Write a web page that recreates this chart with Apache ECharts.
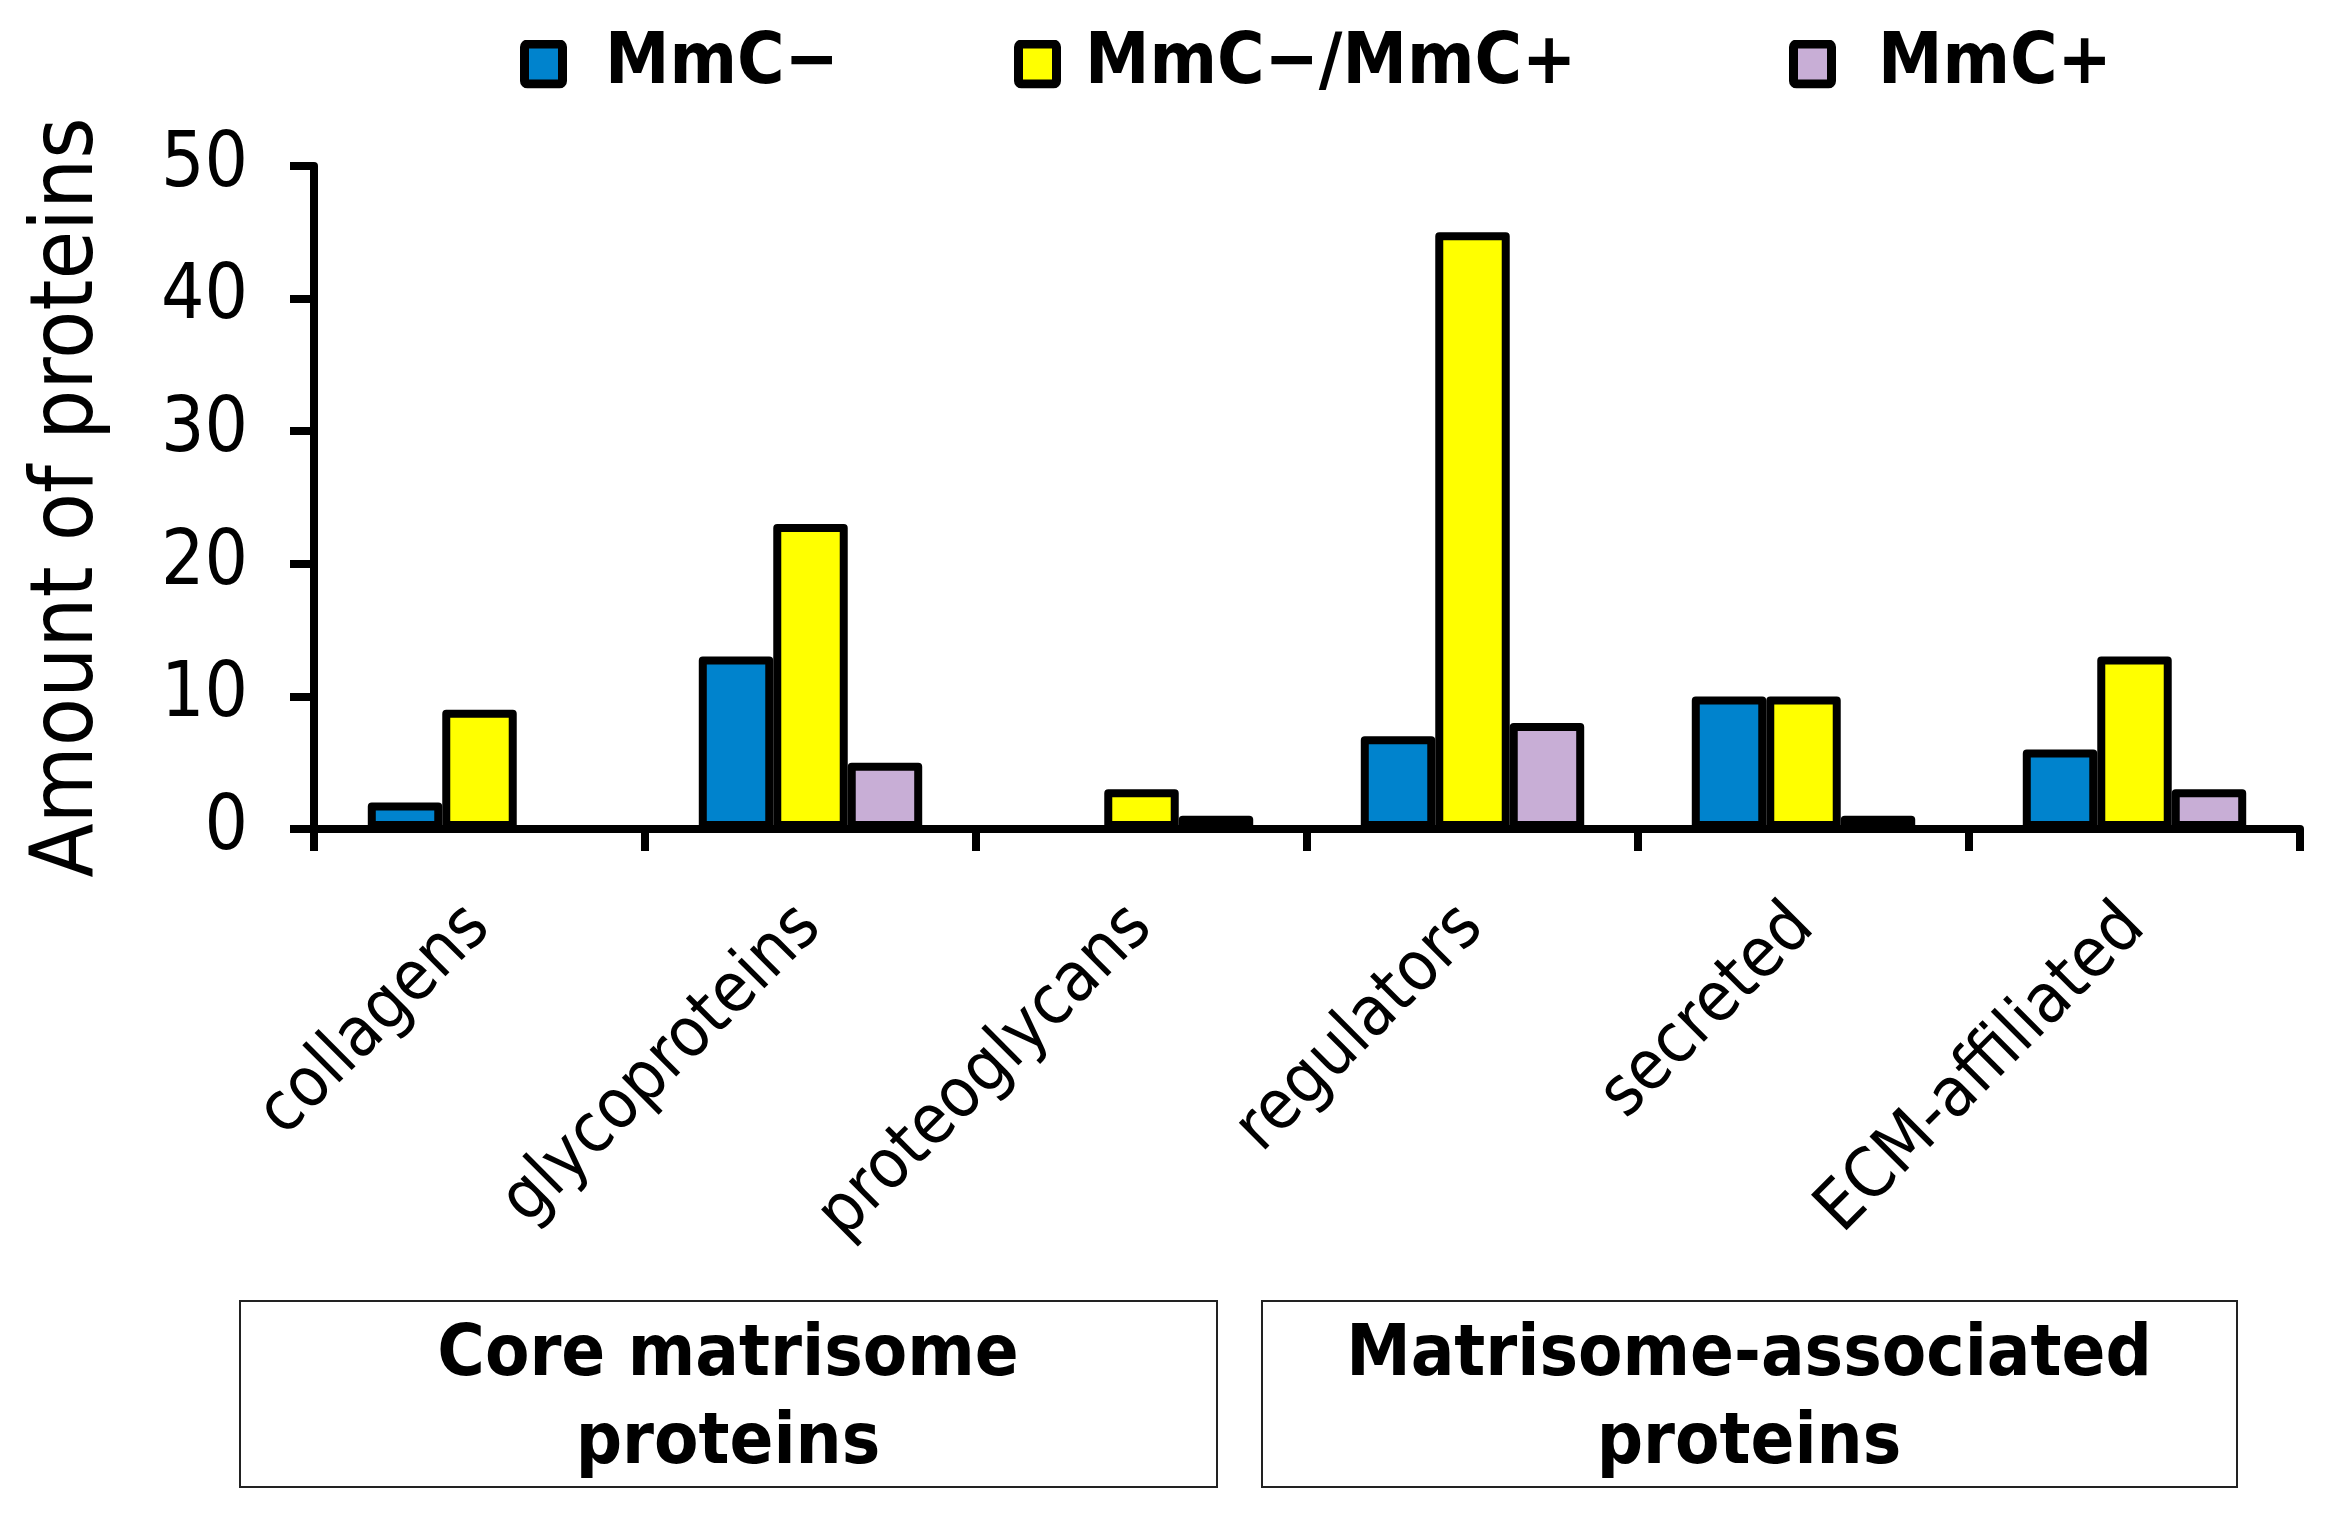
<!DOCTYPE html>
<html>
<head>
<meta charset="utf-8">
<script src="https://cdn.jsdelivr.net/npm/echarts@6/dist/echarts.min.js"></script>
<style>
html,body{margin:0;padding:0;background:#fff;}
#chart{width:2342px;height:1513px;}
</style>
</head>
<body>
<div id="chart"></div>
<script>
const categories = ['collagens', 'glycoproteins', 'proteoglycans', 'regulators', 'secreted', 'ECM-affiliated'];
const seriesNames = ['MmC\u2212', 'MmC\u2212/MmC+', 'MmC+'];
const mmcMinus = [2, 13, 0, 7, 10, 6];
const mmcBoth = [9, 23, 3, 45, 10, 13];
const mmcPlus = [0, 5, 1, 8, 1, 3];
const seriesColors = ['#0083CD', '#FFFF00', '#C8AED6'];
const yAxisName = 'Amount of proteins';
const groupLabels = ['Core matrisome\nproteins', 'Matrisome-associated\nproteins'];

const FONT = "'DejaVu Sans Condensed', 'Liberation Sans', sans-serif";

const chart = echarts.init(document.getElementById('chart'), null, {renderer: 'canvas'});

function legendIcon(color) {
  const svg = "<svg xmlns='http://www.w3.org/2000/svg' width='47' height='49' viewBox='0 0 47 49'>" +
    "<rect x='4.5' y='4.5' width='38' height='40' rx='3' ry='3' fill='" + color + "' stroke='#000' stroke-width='9'/></svg>";
  return 'image://data:image/svg+xml;charset=utf-8,' + encodeURIComponent(svg);
}

function legendFor(i, left, pad) {
  return {
    data: [seriesNames[i]],
    left: left,
    top: 23,
    itemWidth: 47,
    itemHeight: 49,
    icon: legendIcon(seriesColors[i]),
    textStyle: {fontFamily: FONT, fontWeight: 'bold', fontSize: 72, color: '#000', padding: [12, 0, 0, pad]}
  };
}

const seriesData = [mmcMinus, mmcBoth, mmcPlus];

const option = {
  backgroundColor: '#fff',
  animation: false,
  legend: [legendFor(0, 515, 33), legendFor(1, 1009, 19), legendFor(2, 1784, 37)],
  grid: {left: 314, right: 42, top: 166, bottom: 684, containLabel: false, outerBoundsMode: 'none'},
  xAxis: {
    type: 'category',
    data: categories,
    axisLine: {lineStyle: {color: '#000', width: 8}},
    axisTick: {show: true, alignWithLabel: false, length: 22, lineStyle: {color: '#000', width: 8}},
    axisLabel: {interval: 0, rotate: 45, margin: 88, fontSize: 69, fontFamily: FONT, color: '#000'},
    splitLine: {show: false}
  },
  yAxis: {
    type: 'value',
    min: 0, max: 50, interval: 10,
    name: yAxisName,
    nameLocation: 'middle',
    nameRotate: 90,
    nameGap: 201,
    nameTextStyle: {fontSize: 88, fontFamily: FONT, color: '#000'},
    axisLine: {show: true, lineStyle: {color: '#000', width: 8}},
    axisTick: {show: true, length: 24, lineStyle: {color: '#000', width: 8}},
    axisLabel: {margin: 66, fontSize: 76, fontFamily: FONT, color: '#000'},
    splitLine: {show: false}
  },
  series: seriesNames.map((n, i) => ({
    name: n,
    type: 'bar',
    data: seriesData[i],
    barGap: '0%',
    barCategoryGap: '32.5%',
    itemStyle: {color: seriesColors[i], borderColor: '#000', borderWidth: 8, borderJoin: 'round'}
  })),
  graphic: [
    {type: 'rect', shape: {x: 240, y: 1301, width: 977, height: 186}, style: {fill: 'none', stroke: '#222', lineWidth: 2}},
    {type: 'rect', shape: {x: 1262, y: 1301, width: 975, height: 186}, style: {fill: 'none', stroke: '#222', lineWidth: 2}},
    {type: 'text', x: 728, y: 1400, style: {text: groupLabels[0], fontFamily: FONT, fontWeight: 'bold', fontSize: 72, lineHeight: 88, fill: '#000', align: 'center', verticalAlign: 'middle'}},
    {type: 'text', x: 1749, y: 1400, style: {text: groupLabels[1], fontFamily: FONT, fontWeight: 'bold', fontSize: 72, lineHeight: 88, fill: '#000', align: 'center', verticalAlign: 'middle'}}
  ]
};
chart.setOption(option);
</script>
</body>
</html>
